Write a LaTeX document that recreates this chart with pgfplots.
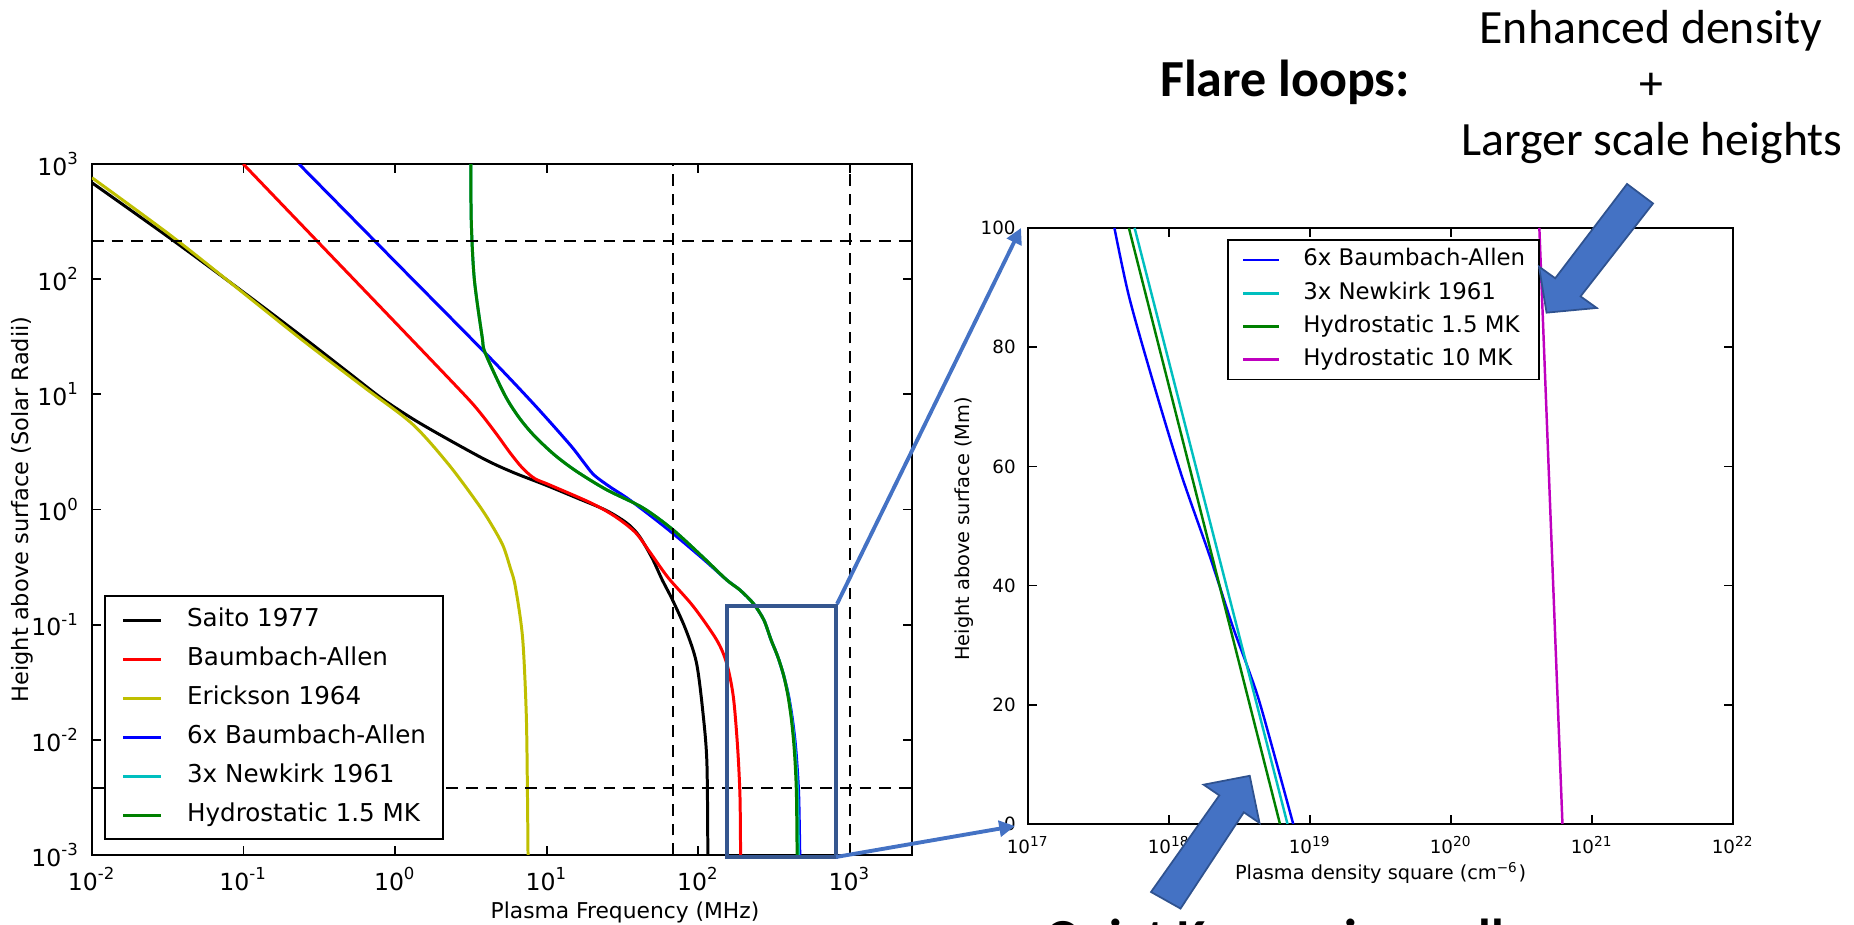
\documentclass[border=0pt]{standalone}
\usepackage{pgfplots}
\pgfplotsset{compat=1.18}
\usepackage{fontspec}
\setmainfont{DejaVu Sans}
\newfontfamily\calfont{Carlito}
\usetikzlibrary{arrows.meta}
\definecolor{mplb}{rgb}{0,0,1}
\definecolor{mplg}{rgb}{0,0.5,0}
\definecolor{mplr}{rgb}{1,0,0}
\definecolor{mplc}{rgb}{0,0.75,0.75}
\definecolor{mplm}{rgb}{0.75,0,0.75}
\definecolor{mply}{rgb}{0.75,0.75,0}
\definecolor{pptblue}{HTML}{4472C4}
\definecolor{pptedge}{HTML}{2F528F}
\definecolor{boxblue}{HTML}{35568F}
\newcommand{\pten}[2]{\pgfmathtruncatemacro{\ee}{round(#1)}10\textsuperscript{\fontsize{#2}{#2}\selectfont\ifnum\ee<0 -\number-\ee\else\ee\fi}}
\pgfplotsset{
  mplstyle/.style={
    axis line style={line width=0.6pt},
    tick align=inside,
    major tick length=2.6pt, minor tick length=1.3pt,
    every tick/.style={black, line width=0.5pt},
    every minor tick/.style={black, line width=0.4pt},
    scale only axis,
    anchor=south west,
    legend cell align=left,
  },
}
\begin{document}
\begin{tikzpicture}
\useasboundingbox (0,0) rectangle (185.4mm,92.5mm);
\clip (0,0) rectangle (185.4mm,92.5mm);

% ---------------- left chart ----------------
\begin{axis}[mplstyle,
  at={(9.2mm,7.0mm)}, width=82mm, height=69.1mm,
  xmode=log, ymode=log, log basis x=10, log basis y=10,
  xmin=0.01, xmax=2570, ymin=1e-3, ymax=1e3,
  xtick={0.01,0.1,1,10,100,1000},
  ytick={1e-3,1e-2,1e-1,1,10,100,1000},
  xticklabel={\pten{\tick}{4.7}}, yticklabel={\pten{\tick}{4.7}},
  ticklabel style={font=\fontsize{6.7}{8}\selectfont},
  xlabel={Plasma Frequency (MHz)},
  ylabel={Height above surface (Solar Radii)},
  xlabel style={font=\fontsize{6.2}{7}\selectfont, at={(axis description cs:0.65,-0.0825)}, anchor=center},
  ylabel style={font=\fontsize{6.4}{7.5}\selectfont, at={(axis description cs:-0.085,0.5)}, anchor=center},
  legend style={at={(0.0146,0.0217)}, anchor=south west, draw=black, line width=0.5pt,
    font=\fontsize{7}{8.4}\selectfont, row sep=4.2pt, inner xsep=4.8pt, inner ysep=3.35pt,
    nodes={inner sep=0pt, text height=5.3pt, text depth=1.6pt},
    /tikz/every odd column/.style={column sep=7pt}},
  legend image code/.code={\draw[#1,line width=0.9pt] (0pt,0pt) -- (10.7pt,0pt);},
]
\addplot[black, line width=0.85pt, smooth, tension=0.5] coordinates {(0.01,687) (0.033,225) (0.0995,77.3) (0.249,31.0) (0.5,15.2) (0.822,9.16) (1.3,6.15) (2.06,4.32) (3.93,2.71) (6.0,2.1) (9.84,1.63) (15.8,1.26) (24.7,0.982) (33.9,0.759) (40.7,0.590) (49.5,0.380) (57.8,0.245) (67.6,0.164) (82.8,0.0902) (97.3,0.0466) (107.4,0.0171) (114.0,0.0063) (115.6,0.001)};
\addlegendentry{Saito 1977}
\addplot[mplr, line width=0.85pt, smooth, tension=0.5] coordinates {(0.0995,1000) (0.316,204.6) (1.0,42.2) (2.51,11.9) (3.31,8.04) (3.98,5.96) (4.79,4.31) (5.75,3.09) (6.92,2.29) (8.32,1.86) (10.4,1.64) (19.5,1.143) (28.2,0.871) (38.5,0.631) (47.9,0.427) (63.1,0.257) (92.7,0.144) (132.1,0.0738) (153.8,0.0463) (170.2,0.0238) (181.6,0.00877) (188.4,0.00323) (190.1,0.001)};
\addlegendentry{Baumbach-Allen}
\addplot[mply, line width=0.85pt, smooth, tension=0.5] coordinates {(0.01,760) (0.033,240) (0.0995,76) (0.249,29) (0.625,11.5) (1.30,5.52) (2.26,2.45) (3.58,1.086) (4.4,0.71) (5.16,0.482) (5.73,0.316) (6.21,0.214) (6.93,0.0774) (7.33,0.01687) (7.46,0.00367) (7.53,0.001)};
\addlegendentry{Erickson 1964}
\addplot[mplb, line width=0.85pt, smooth, tension=0.5] coordinates {(0.232,1000) (1.0,142) (3.93,22.9) (8.18,8.28) (14.2,3.67) (17.5,2.58) (20.5,1.995) (26,1.58) (35.6,1.20) (61.8,0.687) (107.2,0.374) (153.8,0.245) (187.9,0.2004) (230.1,0.1535) (270.4,0.1102) (302,0.0738) (335,0.0525) (365.6,0.0363) (394.5,0.024) (417.8,0.01514) (436.5,0.00933) (449.8,0.00562) (460.3,0.00316) (467.7,0.001)};
\addlegendentry{6x Baumbach-Allen}
\addplot[mplc, line width=0.85pt, smooth, tension=0.5] coordinates {(3.16,1000) (3.18,316) (3.33,100) (3.75,31.6) (3.93,22.9) (5.26,10) (6.50,6.41) (8.18,4.44) (11.2,3.0) (15.6,2.16) (24.7,1.49) (42.8,1.04) (67.8,0.670) (107.2,0.386) (153.8,0.245) (187.9,0.2004) (230.1,0.1535) (270.4,0.1102) (302,0.0738) (335,0.0525) (365.6,0.0363) (392.6,0.024) (414,0.01514) (431.5,0.00933) (443.6,0.00562) (452.9,0.00316) (458.1,0.001)};
\addlegendentry{3x Newkirk 1961}
\addplot[mplg, line width=0.85pt, smooth, tension=0.5] coordinates {(3.16,1000) (3.18,316) (3.33,100) (3.75,31.6) (3.93,22.9) (5.26,10) (6.50,6.41) (8.18,4.44) (11.2,3.0) (15.6,2.16) (24.7,1.49) (42.8,1.04) (67.8,0.670) (107.2,0.386) (153.8,0.245) (187.9,0.2004) (230.1,0.1535) (270.4,0.1102) (302,0.0738) (335,0.0525) (365.6,0.0363) (390.8,0.024) (411.1,0.01514) (426.6,0.00933) (437.5,0.00562) (444.6,0.00316) (448.7,0.001)};
\addlegendentry{Hydrostatic 1.5 MK}
\addplot[black, line width=0.5pt, sharp plot, dash pattern=on 3.3pt off 2.3pt, forget plot] coordinates {(0.01,215) (2570,215)};
\addplot[black, line width=0.5pt, sharp plot, dash pattern=on 3.3pt off 2.3pt, forget plot] coordinates {(0.01,0.0038) (2570,0.0038)};
\addplot[black, line width=0.5pt, sharp plot, dash pattern=on 3.3pt off 2.3pt, forget plot] coordinates {(68,1e-3) (68,1e3)};
\addplot[black, line width=0.5pt, sharp plot, dash pattern=on 3.3pt off 2.3pt, forget plot] coordinates {(1000,1e-3) (1000,1e3)};
\end{axis}

% ---------------- right chart ----------------
\begin{axis}[mplstyle,
  at={(102.8mm,10.1mm)}, width=70.5mm, height=59.6mm,
  xmode=log, log basis x=10,
  xmin=1e17, xmax=1e22, ymin=0, ymax=100,
  xtick={1e17,1e18,1e19,1e20,1e21,1e22},
  ytick={0,20,40,60,80,100},
  xticklabel={\pten{\tick}{3.9}},
  yticklabel={\pgfmathprintnumber[assume math mode=true]{\tick}},
  ticklabel style={font=\fontsize{5.2}{6}\selectfont},
  xlabel={Plasma density square (cm\textsuperscript{\char"2212\relax 6})},
  ylabel={Height above surface (Mm)},
  label style={font=\fontsize{5.5}{6.5}\selectfont},
  xlabel style={at={(axis description cs:0.5,-0.082)}, anchor=center},
  ylabel style={at={(axis description cs:-0.091,0.495)}, anchor=center},
  legend style={at={(0.282,0.9815)}, anchor=north west, draw=black, line width=0.5pt,
    font=\fontsize{6.5}{7.8}\selectfont, row sep=3.05pt, inner xsep=4pt, inner ysep=2.5pt,
    nodes={inner sep=0pt, text height=4.9pt, text depth=1.5pt},
    /tikz/every odd column/.style={column sep=6.5pt}},
  legend image code/.code={\draw[#1,line width=0.8pt] (0pt,0pt) -- (10.2pt,0pt);},
]
\addplot[mplb, line width=0.7pt, smooth, tension=0.5] coordinates {(4.10e17,100) (5.19e17,88.6) (7.57e17,74.8) (1.211e18,58.9) (1.941e18,45.0) (2.825e18,33.2) (3.65e18,26.0) (4.53e18,19.3) (7.60e18,0)};
\addlegendentry{6x Baumbach-Allen}
\addplot[mplc, line width=0.7pt] coordinates {(5.70e17,100) (6.92e18,0)};
\addlegendentry{3x Newkirk 1961}
\addplot[mplg, line width=0.7pt] coordinates {(5.19e17,100) (6.12e18,0)};
\addlegendentry{Hydrostatic 1.5 MK}
\addplot[mplm, line width=0.7pt] coordinates {(4.23e20,100) (6.17e20,0)};
\addlegendentry{Hydrostatic 10 MK}
\end{axis}

% ---------------- annotations ----------------
\begin{scope}[x=0.1mm, y=0.1mm]
\draw[boxblue, line width=1.3pt] (727,68) rectangle (836,319);
\draw[pptblue, line width=1.1pt, -{Triangle[length=4.5pt,width=4.5pt]}] (837,321) -- (1021,697);
\draw[pptblue, line width=1.1pt, -{Triangle[length=4.5pt,width=4.5pt]}] (836,68) -- (1015,99);
\filldraw[fill=pptblue, draw=pptedge, line width=0.5pt]
  (1627,741) -- (1555.2,646.7) -- (1539,658.3) -- (1546.5,612.3) -- (1596.7,617) -- (1580.5,628.6) -- (1653,721.5) -- cycle;
\filldraw[fill=pptblue, draw=pptedge, line width=0.5pt]
  (1151,33) -- (1219.3,129.6) -- (1203.6,140.3) -- (1249.7,149.2) -- (1259.5,102) -- (1243.8,112.7) -- (1180.5,16.4) -- cycle;
\node[anchor=base, inner sep=0pt, font={\fontsize{14.8}{17}\selectfont\calfont\bfseries}] at (1285,828) {Flare loops:};
\node[anchor=base, inner sep=0pt, font={\fontsize{13.6}{16}\selectfont\calfont}] at (1651,881) {Enhanced density};
\node[anchor=base, inner sep=0pt, font={\fontsize{13.6}{16}\selectfont\calfont}] at (1651,825) {+};
\node[anchor=base, inner sep=0pt, font={\fontsize{13.6}{16}\selectfont\calfont}] at (1652,769) {Larger scale heights};
\node[anchor=base west, inner sep=0pt, font={\fontsize{14.8}{17}\selectfont\calfont\bfseries}] at (1045,-31) {Quiet Korona is small};
\end{scope}
\end{tikzpicture}
\end{document}
